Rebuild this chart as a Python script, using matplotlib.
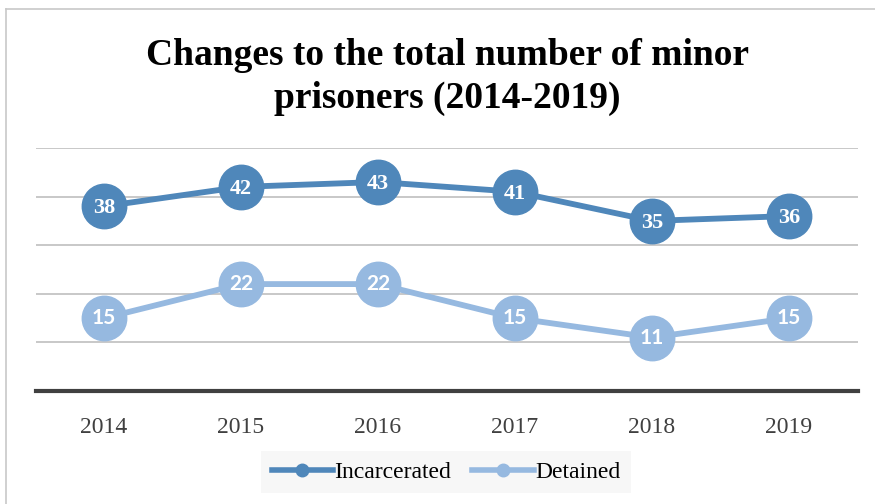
import matplotlib.pyplot as plt
from matplotlib.lines import Line2D

years = ['2014', '2015', '2016', '2017', '2018', '2019']
incarcerated = [38, 42, 43, 41, 35, 36]
detained = [15, 22, 22, 15, 11, 15]

dark_blue = '#4f87ba'
light_blue = '#96b9e0'
title = 'Changes to the total number of minor\nprisoners (2014-2019)'


def visualize():
    fig = plt.figure(figsize=(8.75, 5.04), dpi=100)
    W, H = 875, 504

    # thin frame along the top and left edge
    fig.add_artist(Line2D([6 / W, 1], [1 - 9 / H, 1 - 9 / H], color='#c8c8c8', lw=1.2))
    fig.add_artist(Line2D([6 / W, 6 / W], [0, 1 - 9 / H], color='#c8c8c8', lw=1.2))

    ax = fig.add_axes([35.5 / W, 1 - 391 / H, 822 / W, (391 - 148) / H])
    x = range(len(years))

    ax.plot(x, incarcerated, color=dark_blue, lw=4.2, marker='o', ms=32,
            solid_capstyle='round', zorder=3)
    ax.plot(x, detained, color=light_blue, lw=4.2, marker='o', ms=32,
            solid_capstyle='round', zorder=3)

    for i, v in enumerate(incarcerated):
        ax.text(i, v - 0.4, str(v), ha='center', va='center', color='white',
                fontsize=16, fontweight='bold', family='Liberation Serif', zorder=4)
    for i, v in enumerate(detained):
        ax.text(i, v, str(v), ha='center', va='center', color='white',
                fontsize=15, fontweight='bold', family='Lato', zorder=4)

    ax.set_xlim(-0.5, len(years) - 0.5)
    ax.set_ylim(0, 50)
    ax.set_yticks([10, 20, 30, 40, 50])
    ax.yaxis.grid(True, color='#c4c4c4', lw=1.3)
    ax.set_axisbelow(True)
    ax.tick_params(axis='y', left=False, labelleft=False)
    ax.set_xticks(list(x))
    ax.set_xticklabels(years, family='Liberation Serif', fontsize=17, color='#404040')
    ax.tick_params(axis='x', length=0, pad=19)
    for side in ['top', 'right', 'left']:
        ax.spines[side].set_visible(False)
    ax.spines['bottom'].set_color('#404040')
    ax.spines['bottom'].set_linewidth(3)

    fig.text(447 / W, 1 - 77 / H, title, ha='center', va='center',
             family='Liberation Serif', fontweight='bold', fontsize=27,
             linespacing=1.3)

    handles = [Line2D([], [], color=dark_blue, lw=4, marker='o', ms=9),
               Line2D([], [], color=light_blue, lw=4, marker='o', ms=9)]
    leg = fig.legend(handles, ['Incarcerated', 'Detained'], loc='center',
                     bbox_to_anchor=(446 / W, 1 - 472 / H), ncol=2,
                     frameon=True, fancybox=False, handlelength=2.6,
                     handletextpad=0.05, columnspacing=0.9, borderpad=0.45,
                     borderaxespad=0, prop={'family': 'Liberation Serif', 'size': 17})
    leg.get_frame().set_facecolor('#f6f6f6')
    leg.get_frame().set_edgecolor('none')

    plt.savefig('out.png', dpi=100)


def main():
    visualize()


if __name__ == '__main__':
    main()
